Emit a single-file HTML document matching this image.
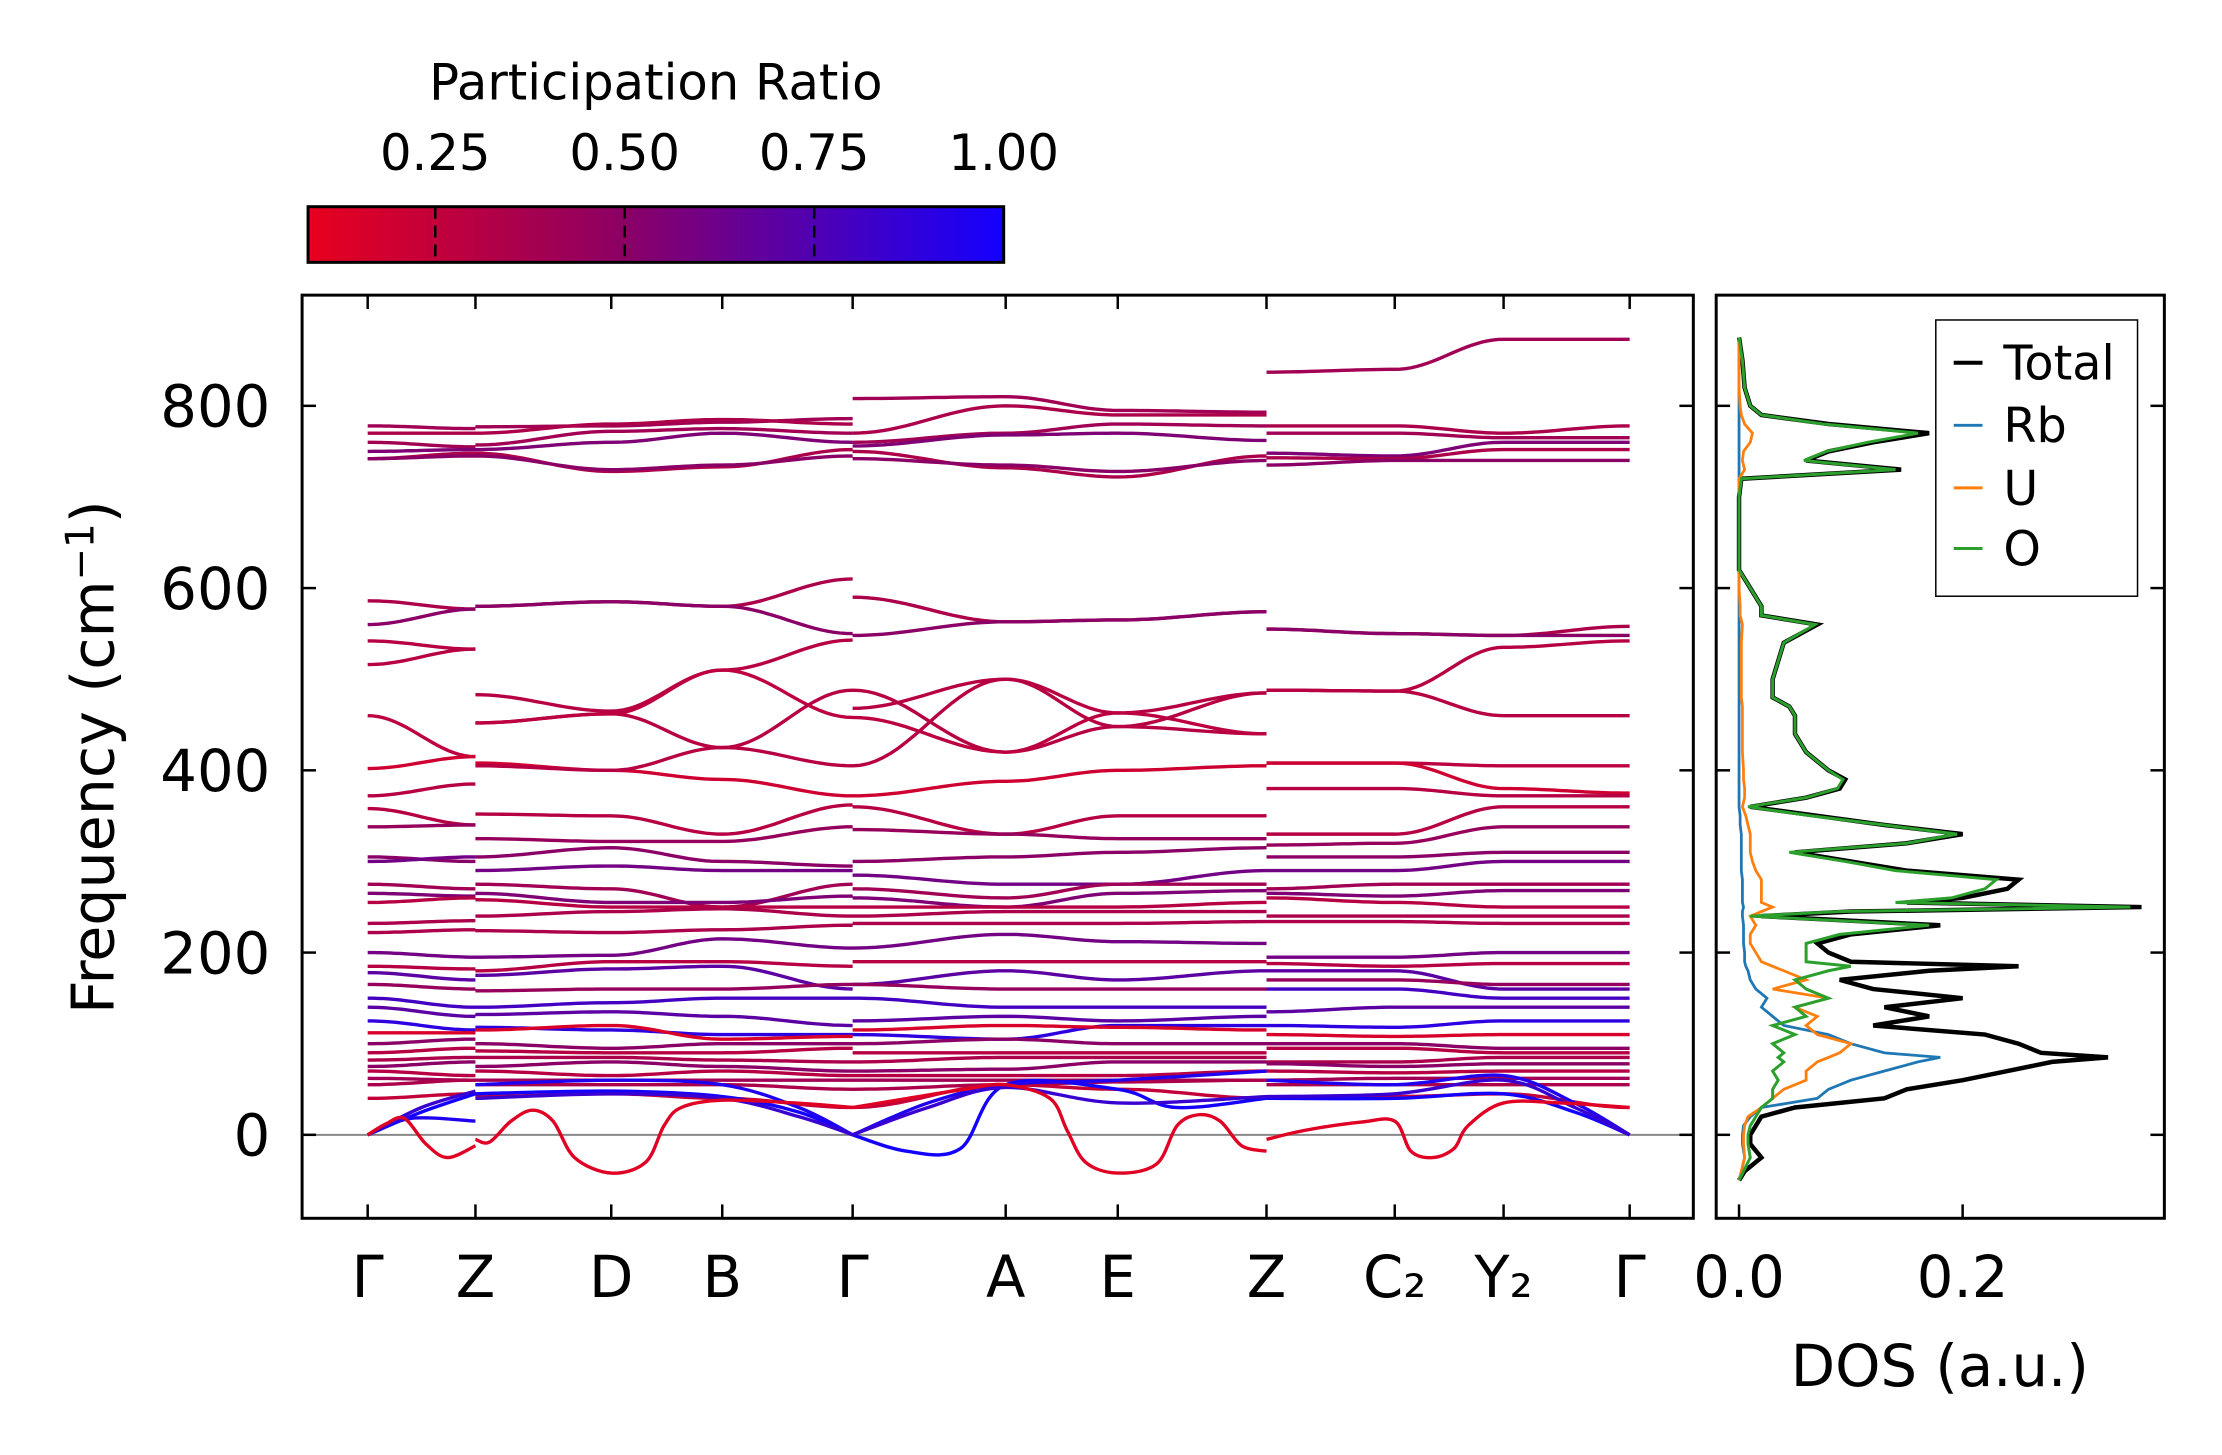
<!DOCTYPE html>
<html><head><meta charset="utf-8"><style>
html,body{margin:0;padding:0;background:#fff;}
svg{display:block;font-family:"DejaVu Sans","Liberation Sans",sans-serif;}
</style></head><body>
<svg id="fig" width="2222" height="1455" viewBox="0 0 2236 1464.2" preserveAspectRatio="none" xmlns="http://www.w3.org/2000/svg">
<defs>
<linearGradient id="cmap" x1="0" x2="1" y1="0" y2="0">
<stop offset="0" stop-color="rgb(232,0,30)"/>
<stop offset="0.45" stop-color="rgb(140,0,100)"/>
<stop offset="1" stop-color="rgb(20,0,255)"/>
</linearGradient>
<clipPath id="clipMain"><rect x="304" y="297" width="1400" height="929"/></clipPath>
<clipPath id="clipDos"><rect x="1727" y="297" width="451" height="929"/></clipPath>
</defs>
<g>
<text x="660" y="100" font-size="50" text-anchor="middle">Participation Ratio</text>
<rect x="310" y="208" width="700" height="56" fill="url(#cmap)" stroke="#000" stroke-width="3"/>
<g id="cbTicks"></g>
</g>
<g id="main">
<rect x="304" y="297" width="1400" height="929" fill="none" stroke="#000" stroke-width="3"/>
<g id="bands" clip-path="url(#clipMain)"></g>
<g id="mainTicks"></g>
<text transform="translate(114,762) rotate(-90)" font-size="59" text-anchor="middle">Frequency (cm<tspan dy="-20" font-size="39">−1</tspan><tspan dy="20">)</tspan></text>
</g>
<g id="dos">
<rect x="1727" y="297" width="451" height="929" fill="none" stroke="#000" stroke-width="3"/>
<g id="dosLines" clip-path="url(#clipDos)"></g>
<g id="dosTicks"></g>
<text x="1952" y="1395" font-size="58" text-anchor="middle">DOS (a.u.)</text>
<g>
<rect x="1948" y="322" width="203" height="278" fill="#fff" stroke="#000" stroke-width="1.5"/>
<line x1="1966" x2="1995" y1="365" y2="365" stroke="#000" stroke-width="4"/>
<text x="2016" y="382" font-size="48">Total</text>
<line x1="1966" x2="1995" y1="428" y2="428" stroke="#1f77b4" stroke-width="3"/>
<text x="2016" y="445" font-size="48">Rb</text>
<line x1="1966" x2="1995" y1="491" y2="491" stroke="#ff7f0e" stroke-width="3"/>
<text x="2016" y="508" font-size="48">U</text>
<line x1="1966" x2="1995" y1="552" y2="552" stroke="#2ca02c" stroke-width="3"/>
<text x="2016" y="569" font-size="48">O</text>
</g>
</g>
</svg>
<script>
// ---------- data ----------
const kLabels = ["Γ","Z","D","B","Γ","A","E","Z","C₂","Y₂","Γ"];
const kTicks = [0,1,2.26,3.29,4.5,5.92,6.96,8.34,9.53,10.54,11.71];
const kNodes = [0,1,1,2.26,3.29,4.5,4.5,5.92,6.96,8.34,8.34,9.53,10.54,11.71];
const yTickVals = [0,200,400,600,800];
const cbTickVals = [0.25,0.50,0.75,1.00];
const bandFreqs = [
[778,775,777,778,782,786,808,810,795,793,837,840,873,873],
[770,770,770,780,785,780,770,800,790,790,778,778,770,778],
[760,755,757,772,775,770,760,770,780,778,770,770,765,765],
[750,752,752,760,770,760,756,768,770,762,748,745,760,760],
[742,748,748,728,733,752,750,732,722,745,743,742,752,752],
[742,745,745,730,735,745,742,735,728,740,735,740,740,740],
[586,577,580,585,580,610,590,563,565,574,555,550,548,558],
[560,577,580,585,580,550,548,563,565,574,555,550,548,548],
[542,533,483,465,510,543,468,500,463,485,488,487,535,542],
[516,533,452,462,425,488,488,420,448,440,488,487,460,460],
[460,415,452,462,510,458,458,420,463,440,408,408,405,405],
[402,415,408,400,390,372,372,388,400,405,408,408,380,375],
[372,385,405,400,425,405,405,500,448,485,380,380,372,372],
[358,340,352,350,330,362,360,330,350,350,330,330,360,360],
[338,340,325,322,322,338,335,330,325,325,318,320,338,338],
[305,300,305,315,300,295,300,305,310,315,305,305,310,310],
[300,305,290,295,290,290,285,275,275,290,290,290,300,300],
[275,270,275,270,250,275,270,260,275,275,270,275,275,275],
[265,262,265,255,255,262,260,250,265,268,265,262,268,268],
[255,260,258,250,250,250,250,250,250,255,260,255,250,250],
[232,235,240,245,248,240,240,245,245,245,240,240,240,240],
[222,225,224,222,225,230,232,232,232,234,234,234,232,232],
[200,195,195,197,215,205,205,220,212,210,195,195,200,200],
[185,182,180,190,190,185,190,190,190,190,188,185,188,188],
[178,170,175,182,185,160,165,180,170,180,180,180,160,160],
[165,160,158,160,160,165,165,160,160,160,170,170,165,165],
[150,140,140,145,150,150,150,140,140,140,160,160,150,150],
[140,130,132,135,130,120,125,130,125,130,135,140,140,140],
[125,115,118,115,110,110,110,105,120,120,120,118,125,125],
[112,112,115,120,105,108,115,120,118,115,110,108,110,110],
[100,105,100,95,100,100,100,105,100,100,100,100,95,95],
[90,95,92,90,90,95,90,90,90,90,95,95,90,90],
[82,85,85,85,82,80,80,85,85,85,80,80,85,85],
[75,80,75,80,75,70,70,72,80,80,78,75,78,78],
[70,65,70,65,70,65,65,65,65,70,70,68,70,70],
[62,60,60,60,60,60,60,60,60,60,60,62,62,62],
[55,60,55,55,55,50,50,55,58,60,55,55,55,55],
[40,45,42,45,40,30,30,55,50,40,40,42,45,30]
];
const bandPR = [0.40,0.35,0.40,0.55,0.35,0.50,0.35,0.50,0.30,0.30,0.28,0.20,0.30,0.30,0.45,0.50,0.60,0.40,0.55,0.30,0.35,0.35,0.60,0.30,0.70,0.45,0.80,0.70,0.90,0.15,0.50,0.30,0.35,0.50,0.30,0.40,0.35,0.25];
const softK = [[0,0.17,0.34,0.54,0.74,1.0],[1,1.13,1.33,1.53,1.72,1.92,2.26,2.58,2.75,2.91,3.29,3.96,4.5],[4.5,5.01,5.54,5.92,6.33,6.49,6.66,6.96,7.32,7.51,7.71,7.91,8.11,8.34],[8.34,8.7,9.22,9.53,9.68,9.88,10.08,10.21,10.54,11.07,11.71]];
const softF = [[0,12,18,-10,-25,-12],[-5,-8,15,27,15,-25,-42,-30,10,30,38,35,30],[30,40,50,55,40,5,-30,-42,-32,10,22,15,-12,-18],[-5,5,14,15,-18,-25,-15,10,35,35,30]];
const acAK = [[0,0.5,1],[1,2.26,3.29,4.0,4.5],[4.5,5.0,5.5,5.92,6.96,7.5,8.34],[8.34,9.53,10.54,11.2,11.71]];
const acAF = [[0,25,45],[45,48,42,25,0],[0,-18,-15,55,50,30,40],[40,40,45,25,0]];
const acBK = [[0,0.4,1],[1,2.26,3.29,4.0,4.5],[4.5,5.2,5.92,6.96,8.34],[8.34,9.53,10.54,11.2,11.71]];
const acBF = [[0,18,15],[55,60,55,30,0],[0,35,55,60,70],[60,55,65,35,0]];
const acCK = [[0,0.5,1],[1,2.26,3.29,4.0,4.5],[4.5,5.2,5.92,6.96,8.34],[8.34,9.53,10.54,11.2,11.71]];
const acCF = [[0,30,48],[40,45,40,20,0],[0,30,52,35,42],[42,45,60,30,0]];

const dosFreq = [-50,-40,-25,-10,0,10,20,30,40,50,60,70,80,85,90,100,110,120,130,140,150,160,170,180,185,190,200,210,220,230,240,245,250,255,260,270,280,290,300,310,320,330,340,350,360,370,380,390,400,420,440,460,470,480,500,520,540,560,570,580,600,620,640,700,720,730,740,750,760,770,780,790,800,820,850,875];
const dosTotal = [0,0.005,0.02,0.01,0.01,0.015,0.02,0.05,0.13,0.15,0.2,0.24,0.28,0.33,0.27,0.25,0.22,0.12,0.17,0.13,0.2,0.12,0.09,0.17,0.25,0.1,0.08,0.07,0.1,0.18,0.02,0.1,0.36,0.15,0.2,0.24,0.25,0.15,0.1,0.05,0.15,0.2,0.13,0.07,0.01,0.06,0.09,0.095,0.08,0.06,0.05,0.05,0.045,0.03,0.03,0.035,0.04,0.07,0.02,0.02,0.01,0,0,0,0.002,0.145,0.06,0.08,0.12,0.17,0.08,0.02,0.01,0.005,0.003,0];
const dosO = [0,0.004,0.01,0.008,0.008,0.01,0.015,0.02,0.03,0.03,0.035,0.03,0.04,0.035,0.04,0.03,0.05,0.03,0.06,0.05,0.08,0.06,0.05,0.08,0.1,0.06,0.06,0.06,0.09,0.17,0.01,0.09,0.35,0.14,0.19,0.22,0.23,0.14,0.095,0.045,0.15,0.195,0.13,0.065,0.008,0.06,0.088,0.093,0.08,0.06,0.05,0.05,0.045,0.03,0.03,0.035,0.04,0.068,0.02,0.02,0.01,0,0,0,0.002,0.14,0.058,0.078,0.115,0.16,0.075,0.02,0.01,0.005,0.003,0];
const dosU = [0,0.002,0.005,0.004,0.004,0.005,0.008,0.02,0.03,0.04,0.06,0.06,0.07,0.08,0.09,0.1,0.07,0.06,0.07,0.05,0.08,0.03,0.06,0.04,0.03,0.02,0.015,0.01,0.01,0.015,0.01,0.02,0.03,0.02,0.02,0.02,0.02,0.015,0.012,0.01,0.01,0.01,0.008,0.006,0.003,0.005,0.005,0.004,0.004,0.003,0.003,0.003,0.003,0.002,0.002,0.002,0.002,0.003,0.001,0.001,0,0,0,0,0,0.005,0.003,0.004,0.01,0.012,0.005,0.002,0.001,0,0,0];
const dosRb = [0,0.002,0.005,0.003,0.003,0.004,0.01,0.02,0.07,0.08,0.1,0.13,0.16,0.18,0.13,0.1,0.08,0.04,0.03,0.02,0.025,0.015,0.01,0.008,0.006,0.005,0.005,0.004,0.004,0.004,0.003,0.003,0.004,0.003,0.003,0.003,0.003,0.002,0.002,0.002,0.002,0.002,0.001,0.001,0,0,0,0,0,0,0,0,0,0,0,0,0,0,0,0,0,0,0,0,0,0,0,0,0,0,0,0,0,0,0,0];

const NS = "http://www.w3.org/2000/svg";
function kx(k){ return 370 + k*108.45; }
function fy(f){ return 1142 - f*0.917; }
function dx(v){ return 1750 + v*1125; }
function cbx(v){ return 438 + (v-0.25)*762.7; }
function prColor(p){
  let t = Math.max(0, Math.min(1, (p-0.082)/0.918));
  let a,b,u;
  if (t < 0.45){ a=[232,0,30]; b=[140,0,100]; u=t/0.45; } else { a=[140,0,100]; b=[20,0,255]; u=(t-0.45)/0.55; }
  return "rgb(" + a.map((c,i)=>Math.round(c+(b[i]-c)*u)).join(",") + ")";
}
function mk(tag, attrs, parent){
  const e = document.createElementNS(NS, tag);
  for (const k in attrs) e.setAttribute(k, attrs[k]);
  parent.appendChild(e);
  return e;
}
const segs = [[0,1],[2,5],[6,9],[10,13]];
const bandsG = document.getElementById("bands");

const zl = mk("line", {x1:304, x2:1704, y1:fy(0), y2:fy(0), stroke:"#888", "stroke-width":2}, bandsG);



bandFreqs.forEach((vals, bi) => {
  let d = "";
  segs.forEach(([s,e]) => {
    for (let n = s; n < e; n++){
      const k0 = kNodes[n], k1 = kNodes[n+1], f0 = vals[n], f1 = vals[n+1];
      for (let j = 0; j <= 20; j++){
        const t = j/20, u = (1-Math.cos(Math.PI*t))/2;
        const x = kx(k0 + (k1-k0)*t), y = fy(f0 + (f1-f0)*u);
        d += ((n === s && j === 0) ? "M" : "L") + x.toFixed(1) + "," + y.toFixed(1);
      }
    }
  });
  const p = mk("path", {d:d, fill:"none", stroke:prColor(bandPR[bi]), "stroke-width":3.4}, bandsG);
  
  
});

function catmull(ks, fs){
  let d = "";
  for (let i = 0; i < ks.length-1; i++){
    const p0 = [kx(ks[Math.max(0,i-1)]), fy(fs[Math.max(0,i-1)])];
    const p1 = [kx(ks[i]), fy(fs[i])];
    const p2 = [kx(ks[i+1]), fy(fs[i+1])];
    const p3 = [kx(ks[Math.min(ks.length-1,i+2)]), fy(fs[Math.min(ks.length-1,i+2)])];
    if (i === 0) d += "M" + p1[0].toFixed(1) + "," + p1[1].toFixed(1);
    const c1 = [p1[0]+(p2[0]-p0[0])/6, p1[1]+(p2[1]-p0[1])/6];
    const c2 = [p2[0]-(p3[0]-p1[0])/6, p2[1]-(p3[1]-p1[1])/6];
    d += "C" + c1.map(v=>v.toFixed(1)).join(",") + " " + c2.map(v=>v.toFixed(1)).join(",") + " " + p2.map(v=>v.toFixed(1)).join(",");
  }
  return d;
}
function drawCustom(K, F, pr, name){
  let d = "";
  K.forEach((ks, i) => { d += catmull(ks, F[i]); });
  const p = mk("path", {d:d, fill:"none", stroke:prColor(pr), "stroke-width":3.4}, bandsG);
  
  
}
drawCustom(acAK, acAF, 1.0, "acoustic-band-1");
drawCustom(acBK, acBF, 0.95, "acoustic-band-2");
drawCustom(acCK, acCF, 0.85, "acoustic-band-3");
drawCustom(softK, softF, 0.12, "soft-mode-band");

const mt = document.getElementById("mainTicks");
kTicks.forEach((k, i) => {
  const x = kx(k);
  const t1 = mk("line", {x1:x, x2:x, y1:1226, y2:1212, stroke:"#000", "stroke-width":2.5}, mt);
  
  
  const t2 = mk("line", {x1:x, x2:x, y1:297, y2:311, stroke:"#000", "stroke-width":2.5}, mt);
  
  
  const lab = mk("text", {x:x, y:1305, "font-size":58, "text-anchor":"middle"}, mt);
  lab.textContent = kLabels[i];
  
  
});
yTickVals.forEach(v => {
  const y = fy(v);
  const t = mk("line", {x1:304, x2:318, y1:y, y2:y, stroke:"#000", "stroke-width":2.5}, mt);
  
  
  const lab = mk("text", {x:272, y:y+21, "font-size":58, "text-anchor":"end"}, mt);
  lab.textContent = String(v);
  
  
});

const cb = document.getElementById("cbTicks");
cbTickVals.forEach(v => {
  const x = cbx(v);
  if (v < 1){
    const l = mk("line", {x1:x, x2:x, y1:208, y2:264, stroke:"#000", "stroke-width":2.5, "stroke-dasharray":"12,7"}, cb);
    
    
  }
  const lab = mk("text", {x:x, y:171, "font-size":50, "text-anchor":"middle"}, cb);
  lab.textContent = v.toFixed(2);
  
  
});

const dl = document.getElementById("dosLines");
function dosPath(vals){
  return vals.map((v,i)=>(i?"L":"M")+dx(v).toFixed(1)+","+fy(dosFreq[i]).toFixed(1)).join("");
}
const pt = mk("path", {d:dosPath(dosTotal), fill:"none", stroke:"#000", "stroke-width":4.5}, dl);


const pr = mk("path", {d:dosPath(dosRb), fill:"none", stroke:"#1f77b4", "stroke-width":2.8}, dl);


const pu = mk("path", {d:dosPath(dosU), fill:"none", stroke:"#ff7f0e", "stroke-width":2.8}, dl);


const po = mk("path", {d:dosPath(dosO), fill:"none", stroke:"#2ca02c", "stroke-width":3}, dl);



const dt = document.getElementById("dosTicks");
yTickVals.forEach(v => {
  const y = fy(v);
  const a = mk("line", {x1:1727, x2:1741, y1:y, y2:y, stroke:"#000", "stroke-width":2.5}, dt);
  
  
  const b = mk("line", {x1:2164, x2:2178, y1:y, y2:y, stroke:"#000", "stroke-width":2.5}, dt);
  
  
  const c = mk("line", {x1:1690, x2:1704, y1:y, y2:y, stroke:"#000", "stroke-width":2.5}, dt);
  
  
});
[0.0, 0.2].forEach(v => {
  const x = dx(v);
  const t = mk("line", {x1:x, x2:x, y1:1226, y2:1212, stroke:"#000", "stroke-width":2.5}, dt);
  
  
  const lab = mk("text", {x:x, y:1305, "font-size":58, "text-anchor":"middle"}, dt);
  lab.textContent = v.toFixed(1);
  
  
});
</script>
</body></html>
